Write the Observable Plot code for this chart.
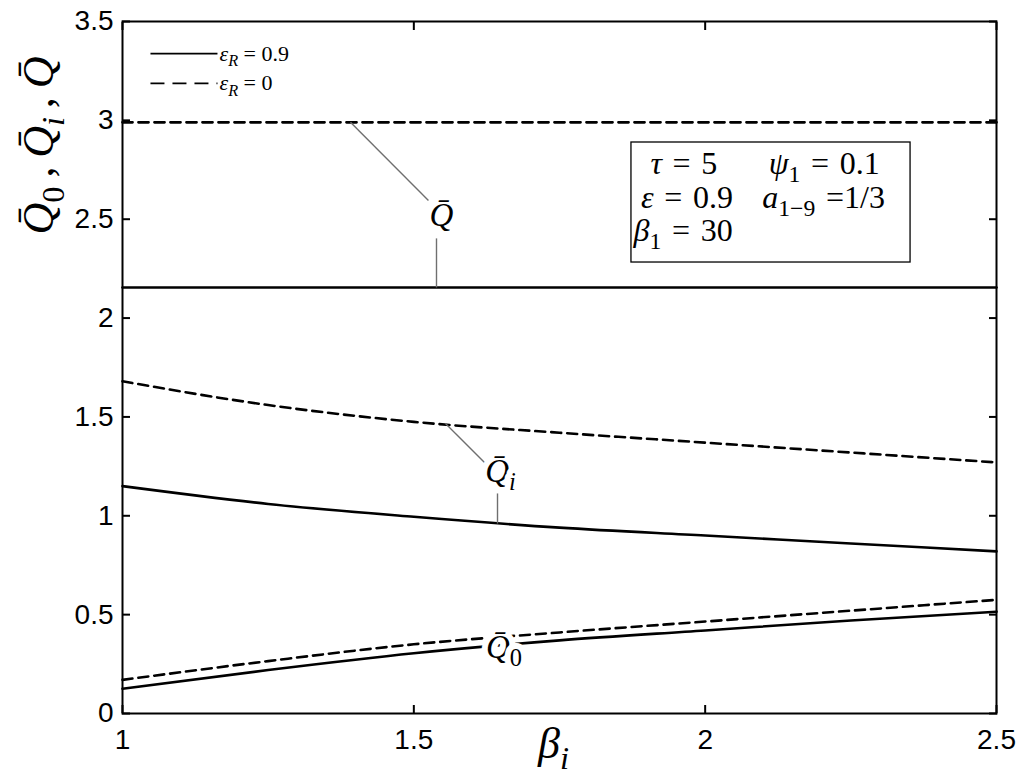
<!DOCTYPE html>
<html><head><meta charset="utf-8">
<script src="https://cdn.jsdelivr.net/npm/d3@7"></script>
<script src="https://cdn.jsdelivr.net/npm/@observablehq/plot@0.6"></script>
<style>html,body{margin:0;padding:0;background:#fff}</style>
</head><body><div id="chart"></div>
<script>
// ---- data ----
const beta      = [1, 1.25, 1.5, 1.75, 2, 2.25, 2.5];
const qBarSolid = [2.155, 2.155, 2.155, 2.155, 2.155, 2.155, 2.155];   // eps_R = 0.9
const qBarDash  = [2.99, 2.99, 2.99, 2.99, 2.99, 2.99, 2.99];          // eps_R = 0
const qiSolid   = [1.15, 1.06, 0.995, 0.94, 0.90, 0.86, 0.82];
const qiDash    = [1.68, 1.56, 1.475, 1.42, 1.37, 1.32, 1.27];
const q0Solid   = [0.125, 0.22, 0.305, 0.37, 0.42, 0.47, 0.515];
const q0Dash    = [0.17, 0.265, 0.35, 0.41, 0.465, 0.52, 0.575];
const xTicks = [1, 1.5, 2, 2.5];
const yTicks = [0, 0.5, 1, 1.5, 2, 2.5, 3, 3.5];
const sp = "\u2004";
const legendLabels = ["*ε*_{*R*} = 0.9", "*ε*_{*R*} = 0"];
const paramCol1 = [`*τ*${sp}=${sp}5`, `*ε*${sp}=${sp}0.9`, `*β*_{1}${sp}=${sp}30`];
const paramCol2 = [`*ψ*_{1}${sp}=${sp}0.1`, `*a*_{1−9}${sp}=1/3`];
const curveLabels = ["*Q\u0304*", "*Q\u0304*_{*i*}", "*Q\u0304*_{0}"];
const yLabel = "*Q\u0304*_{0}\u2009,\u2009*Q\u0304*_{*i*}\u2009,\u2009*Q\u0304*";
const xLabel = "*β*_{*i*}";

const serif = "'Liberation Serif', 'Times New Roman', serif";
const dash = "10,6";

const plot = Plot.plot({
  width: 1024, height: 777,
  marginLeft: 122, marginRight: 28, marginTop: 21, marginBottom: 64,
  x: {domain: [1, 2.5]},
  y: {domain: [0, 3.5]},
  style: {fontFamily: "'Liberation Sans', Arial, sans-serif", background: "#fff", color: "#000"},
  marks: [
    // params box
    Plot.rect([0], {x1: 1.8735, x2: 2.3525, y1: 2.281, y2: 2.888, fill: "#fff", stroke: "#000", strokeWidth: 1.3}),
    // curves
    Plot.line(beta, {x: beta, y: qBarSolid, stroke: "#000", strokeWidth: 2.6}),
    Plot.line(beta, {x: beta, y: qBarDash, stroke: "#000", strokeWidth: 2.8, strokeDasharray: dash}),
    Plot.line(beta, {x: beta, y: qiSolid, stroke: "#000", strokeWidth: 2.6, curve: "monotone-x"}),
    Plot.line(beta, {x: beta, y: qiDash, stroke: "#000", strokeWidth: 2.6, strokeDasharray: dash, curve: "monotone-x"}),
    Plot.line(beta, {x: beta, y: q0Solid, stroke: "#000", strokeWidth: 2.6, curve: "monotone-x"}),
    Plot.line(beta, {x: beta, y: q0Dash, stroke: "#000", strokeWidth: 2.6, strokeDasharray: dash, curve: "monotone-x"}),
    // leader lines
    Plot.link([0, 1, 2, 3], {
      x1: [1.3913, 1.5389, 1.5543, 1.6436], y1: [2.99, 2.403, 1.467, 1.113],
      x2: [1.5251, 1.5389, 1.6230, 1.6436], y2: [2.595, 2.155, 1.265, 0.961],
      stroke: "#6f6f6f", strokeWidth: 1.4
    }),
    // curve labels (white halo breaks the curves as in the reference)
    Plot.text(curveLabels, {
      x: [1.5475, 1.6487, 1.6547], y: [2.519, 1.224, 0.334],
      text: d => d, fontFamily: serif, fontSize: 33, textAnchor: "middle", lineAnchor: "middle",
      fill: "#000", stroke: "#fff", strokeWidth: 12, paintOrder: "stroke"
    }),
    // legend
    Plot.link([0], {x1: 1.048, x2: 1.163, y1: 3.338, y2: 3.338, stroke: "#000", strokeWidth: 1.7}),
    Plot.link([0], {x1: 1.048, x2: 1.163, y1: 3.187, y2: 3.187, stroke: "#000", strokeWidth: 1.7, strokeDasharray: "14,8"}),
    Plot.text(legendLabels, {x: 1.1665, y: [3.338, 3.187], text: d => d, fontFamily: serif, fontSize: 22, textAnchor: "start", lineAnchor: "middle"}),
    // params
    Plot.text(paramCol1, {x: [1.906, 1.890, 1.877], y: [2.782, 2.610, 2.443], text: d => d, fontFamily: serif, fontSize: 32, textAnchor: "start", lineAnchor: "middle"}),
    Plot.text(paramCol2, {x: [2.109, 2.098], y: [2.782, 2.610], text: d => d, fontFamily: serif, fontSize: 32, textAnchor: "start", lineAnchor: "middle"}),
    // frame and inward ticks (box style)
    Plot.frame({stroke: "#000", strokeWidth: 2}),
    Plot.axisX({ticks: xTicks, anchor: "bottom", tickSize: 8, dy: -8, text: null, label: null, strokeWidth: 2}),
    Plot.axisX({ticks: xTicks, anchor: "top", tickSize: 8, dy: 8, text: null, label: null, strokeWidth: 2}),
    Plot.axisY({ticks: yTicks, anchor: "left", tickSize: 8, dx: 8, text: null, label: null, strokeWidth: 2}),
    Plot.axisY({ticks: yTicks, anchor: "right", tickSize: 8, dx: -8, text: null, label: null, strokeWidth: 2}),
    // tick labels
    Plot.axisX({ticks: xTicks, anchor: "bottom", tickSize: 0, tickPadding: 16, fontSize: 28, label: null, tickFormat: d => String(d)}),
    Plot.axisY({ticks: yTicks, anchor: "left", tickSize: 0, tickPadding: 9, fontSize: 28, label: null, tickFormat: d => String(d)}),
    // axis titles
    Plot.text([yLabel], {frameAnchor: "top-left", dx: -84, dy: 124, rotate: -90, text: d => d, fontFamily: serif, fontSize: 44, textAnchor: "middle", lineAnchor: "middle"}),
    Plot.text([xLabel], {frameAnchor: "bottom", dx: -6, dy: 30, text: d => d, fontFamily: serif, fontSize: 44, textAnchor: "middle", lineAnchor: "middle"})
  ]
});
document.getElementById("chart").appendChild(plot);

// rich text: *italic*, _{subscript}
const NS = "http://www.w3.org/2000/svg";
plot.querySelectorAll("text").forEach(el => {
  const s = el.textContent;
  if (!/[*_]/.test(s)) return;
  const fs = parseFloat(getComputedStyle(el).fontSize) || 16;
  const shift = 0.25 * fs;
  el.textContent = "";
  const state = {sub: false};
  const add = (txt, italic, sub) => {
    const t = document.createElementNS(NS, "tspan");
    t.textContent = txt;
    t.setAttribute("font-style", italic ? "italic" : "normal");
    if (sub && !state.sub) { t.setAttribute("dy", shift.toFixed(2)); state.sub = true; }
    else if (!sub && state.sub) { t.setAttribute("dy", (-shift).toFixed(2)); state.sub = false; }
    if (sub) t.setAttribute("font-size", (0.74 * fs).toFixed(2));
    el.appendChild(t);
  };
  const parse = (str, sub) => {
    const re = /_\{([^}]*)\}|\*([^*]*)\*|([^*_]+)/g;
    let m;
    while ((m = re.exec(str))) {
      if (m[1] !== undefined) parse(m[1], true);
      else if (m[2] !== undefined) add(m[2], true, sub);
      else add(m[3], false, sub);
    }
  };
  parse(s, false);
});
</script>
</body></html>
